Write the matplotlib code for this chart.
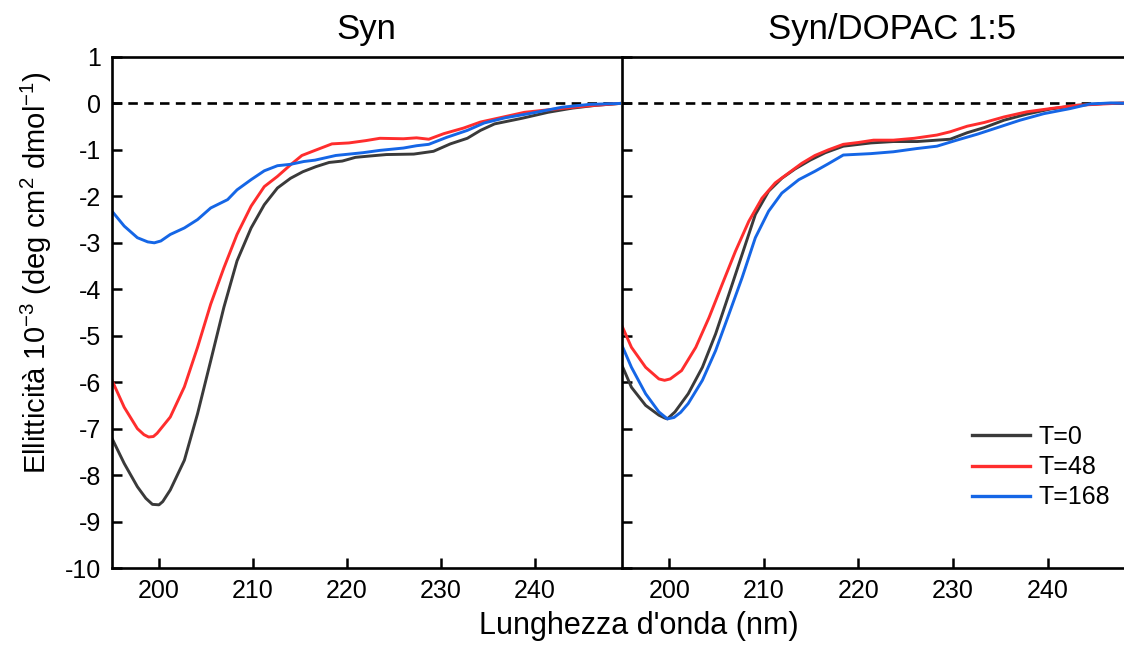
import matplotlib
matplotlib.use("Agg")
import matplotlib.pyplot as plt

plt.rcParams["font.family"] = ["Liberation Sans", "DejaVu Sans"]
plt.rcParams["mathtext.fontset"] = "custom"
plt.rcParams["mathtext.rm"] = "Liberation Sans"
plt.rcParams["mathtext.it"] = "Liberation Sans:italic"
plt.rcParams["axes.unicode_minus"] = False

# ---- data ----
series_labels = ["T=0", "T=48", "T=168"]
series_colors = ["#3a3a3a", "#ff2d2d", "#1566e6"]

# panel 1: Syn
syn_t0_nm = [195, 196.3, 197.7, 198.6, 199.3, 200.0, 200.4, 201.2, 202.7, 204.1, 205.5, 206.9, 208.3, 209.8,
             211.2, 212.6, 214.0, 215.3, 216.7, 218.1, 219.5, 220.9, 222.5, 224.2, 227.1, 229.2, 231.0,
             232.8, 234.2, 235.7, 238.6, 241.4, 244.0, 246.5, 249]
syn_t0_val = [-7.21, -7.75, -8.25, -8.5, -8.63, -8.64, -8.57, -8.32, -7.68, -6.68, -5.54, -4.39, -3.39, -2.68,
              -2.18, -1.82, -1.61, -1.47, -1.36, -1.27, -1.24, -1.16, -1.13, -1.10, -1.09, -1.03, -0.87,
              -0.75, -0.58, -0.44, -0.32, -0.19, -0.10, -0.04, 0.0]

syn_t48_nm = [195, 196.3, 197.7, 198.4, 198.9, 199.4, 199.8, 201.2, 202.7, 204.1, 205.5, 206.9, 208.3,
              209.8, 211.2, 212.6, 214.0, 215.2, 216.6, 218.4, 220.2, 222.0, 223.5, 226.0, 227.4, 228.7,
              230.3, 232.4, 234.2, 236.0, 238.9, 242.2, 245.8, 249]
syn_t48_val = [-5.96, -6.54, -7.0, -7.13, -7.18, -7.17, -7.1, -6.75, -6.1, -5.25, -4.32, -3.54, -2.82,
               -2.21, -1.79, -1.57, -1.32, -1.12, -1.01, -0.87, -0.85, -0.80, -0.75, -0.76, -0.74, -0.77,
               -0.65, -0.53, -0.40, -0.32, -0.19, -0.12, -0.05, 0.0]

syn_t168_nm = [195, 196.3, 197.7, 198.8, 199.5, 200.2, 201.2, 202.7, 204.1, 205.5, 207.3, 208.3, 209.8,
               211.2, 212.6, 214.0, 215.4, 216.6, 218.8, 221.7, 223.5, 226.0, 227.4, 228.7, 230.6, 232.8,
               234.6, 236.8, 239.6, 242.9, 245.8, 249]
syn_t168_val = [-2.32, -2.64, -2.89, -2.98, -3.0, -2.96, -2.82, -2.68, -2.5, -2.25, -2.07, -1.86, -1.64,
                -1.45, -1.34, -1.31, -1.25, -1.22, -1.12, -1.06, -1.01, -0.96, -0.91, -0.88, -0.73, -0.58,
                -0.42, -0.31, -0.21, -0.08, -0.02, 0.0]

# panel 2: Syn/DOPAC 1:5
dop_t0_nm = [195, 196.0, 197.5, 198.9, 199.5, 199.8, 200.6, 202.0, 203.5, 204.9, 206.3, 207.7, 209.1,
             210.5, 211.9, 213.3, 214.9, 216.5, 218.4, 221.3, 223.7, 226.2, 228.3, 229.7, 231.5, 233.3,
             235.4, 237.8, 240.3, 243.1, 246.0, 249.0, 252.0]
dop_t0_val = [-5.64, -6.11, -6.5, -6.71, -6.77, -6.79, -6.64, -6.25, -5.68, -4.96, -4.11, -3.25, -2.39,
              -1.89, -1.61, -1.41, -1.22, -1.06, -0.92, -0.85, -0.82, -0.82, -0.79, -0.77, -0.63, -0.52,
              -0.36, -0.23, -0.12, -0.04, 0.0, 0.01, 0.01]

dop_t48_nm = [195, 196.0, 197.5, 198.9, 199.5, 200.1, 201.3, 202.8, 204.2, 205.6, 207.0, 208.4, 209.8,
              211.2, 212.6, 214.0, 215.4, 216.8, 218.4, 220.0, 221.6, 223.7, 225.9, 228.3, 229.7, 231.5,
              233.3, 235.4, 237.8, 240.3, 243.1, 246.0, 249.0, 252.0]
dop_t48_val = [-4.79, -5.25, -5.68, -5.93, -5.96, -5.93, -5.75, -5.25, -4.61, -3.89, -3.18, -2.54, -2.04,
               -1.71, -1.5, -1.29, -1.12, -1.0, -0.88, -0.84, -0.79, -0.79, -0.75, -0.68, -0.61, -0.49,
               -0.41, -0.29, -0.18, -0.11, -0.04, -0.01, 0.02, 0.02]

dop_t168_nm = [195, 196.0, 197.5, 198.9, 199.8, 200.5, 201.2, 202.0, 203.5, 204.9, 206.3, 207.7, 209.1,
               210.5, 211.9, 213.7, 215.4, 216.8, 218.4, 221.3, 223.7, 226.2, 228.3, 230.4, 232.6, 234.7,
               237.1, 239.6, 242.4, 244.5, 246.7, 249.0, 252.0]
dop_t168_val = [-5.21, -5.68, -6.25, -6.64, -6.79, -6.76, -6.65, -6.46, -5.96, -5.32, -4.54, -3.75, -2.89,
                -2.32, -1.93, -1.64, -1.46, -1.30, -1.11, -1.08, -1.04, -0.97, -0.92, -0.79, -0.66, -0.52,
                -0.36, -0.22, -0.11, -0.01, 0.01, 0.0, 0.0]

panel_titles = ["Syn", "Syn/DOPAC 1:5"]
x_ticks = [200, 210, 220, 230, 240]
y_ticks = list(range(1, -11, -1))

W, H = 1124, 647
fig = plt.figure(figsize=(W / 100, H / 100), dpi=100)

def px_rect(x0, y0, x1, y1):
    return [x0 / W, 1 - y1 / H, (x1 - x0) / W, (y1 - y0) / H]

ax1 = fig.add_axes(px_rect(112, 57, 621, 568))
ax2 = fig.add_axes(px_rect(622, 57, 1162, 568))

panels = [
    (ax1, [(syn_t0_nm, syn_t0_val), (syn_t48_nm, syn_t48_val), (syn_t168_nm, syn_t168_val)], (195, 249.15)),
    (ax2, [(dop_t0_nm, dop_t0_val), (dop_t48_nm, dop_t48_val), (dop_t168_nm, dop_t168_val)], (195, 252.1)),
]

for ax, data, xlim in panels:
    ax.axhline(0, color="black", linewidth=1.9, dashes=(3.6, 2.4), zorder=1)
    for (nm, val), color, label in zip(data, series_colors, series_labels):
        ax.plot(nm, val, color=color, linewidth=2.1, label=label, zorder=2,
                solid_joinstyle="round")
    ax.set_xlim(*xlim)
    ax.set_ylim(-10, 1)
    ax.set_xticks(x_ticks)
    ax.set_yticks(y_ticks)
    ax.tick_params(direction="in", length=7, width=1.8, labelsize=18, pad=8)
    for side in ("left", "bottom", "top", "right"):
        ax.spines[side].set_linewidth(1.9)

ax1.spines["right"].set_visible(False)
ax2.spines["right"].set_visible(False)
ax2.set_yticklabels([])

for ax, title in zip((ax1, ax2), panel_titles):
    ax.set_title(title, fontsize=25, pad=13)

fig.text(36 / W, 1 - 273 / H, r"Ellitticità 10$^{-3}$ (deg cm$^{2}$ dmol$^{-1}$)",
         rotation=90, ha="center", va="center", fontsize=21)
fig.text(639 / W, 1 - 634 / H, "Lunghezza d'onda (nm)", ha="center", va="baseline", fontsize=22)

leg = ax2.legend(loc="upper left", bbox_to_anchor=(972 / W, 1 - 425 / H), bbox_transform=fig.transFigure,
                 frameon=False, fontsize=18, handlelength=2.3, handletextpad=0.35, labelspacing=0.25,
                 borderaxespad=0, borderpad=0)
for line in leg.get_lines():
    line.set_linewidth(2.4)

fig.savefig("out.png", dpi=100)
